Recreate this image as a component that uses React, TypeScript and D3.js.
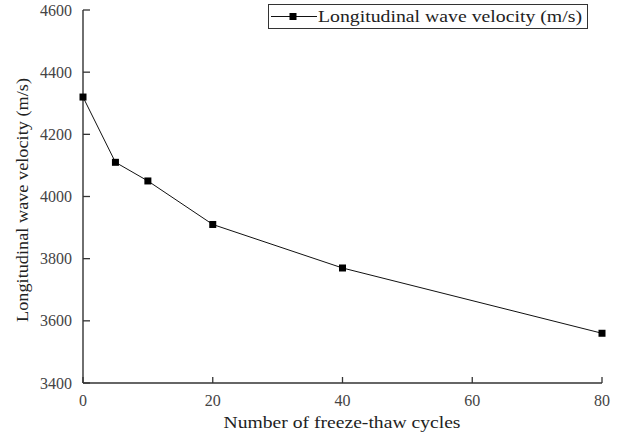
import React from "react";
import * as d3 from "d3";

const cycles = [0, 5, 10, 20, 40, 80];
const velocity = [4320, 4110, 4050, 3910, 3770, 3560];
const xTicks = [0, 20, 40, 60, 80];
const yTicks = [3400, 3600, 3800, 4000, 4200, 4400, 4600];
const seriesName = "Longitudinal wave velocity (m/s)";
const xTitle = "Number of freeze-thaw cycles";
const yTitle = "Longitudinal wave velocity (m/s)";

const W = 623;
const H = 439;
const left = 83;
const right = 602;
const top = 10;
const bottom = 383;
const font = '"Liberation Serif", "Times New Roman", Times, serif';

export default function App() {
  const x = d3.scaleLinear().domain([0, 80]).range([left, right]);
  const y = d3.scaleLinear().domain([3400, 4600]).range([bottom, top]);
  const pts: [number, number][] = cycles.map((c, i) => [c, velocity[i]]);
  const line = d3
    .line<[number, number]>()
    .x((d) => x(d[0]))
    .y((d) => y(d[1]));
  const axisColor = "#333";
  const ms = 7;
  const ts = { fontFamily: font };
  return (
    <svg
      width={W}
      height={H}
      style={{ position: "absolute", left: 0, top: 0, background: "#fff", fontFamily: font }}
    >
      <rect x={0} y={0} width={W} height={H} fill="#fff" />
      <line x1={left} y1={top} x2={left} y2={bottom} stroke={axisColor} strokeWidth={1.4} />
      <line x1={left} y1={bottom} x2={right} y2={bottom} stroke={axisColor} strokeWidth={1.4} />
      {yTicks.map((t) => (
        <g key={"y" + t}>
          <line x1={left} x2={left + 7} y1={y(t)} y2={y(t)} stroke={axisColor} strokeWidth={1.3} />
          <text style={ts} x={left - 11} y={y(t)} dy="0.35em" textAnchor="end" fontSize={16} fill="#444">
            {t}
          </text>
        </g>
      ))}
      {xTicks.map((t) => (
        <g key={"x" + t}>
          <line x1={x(t)} x2={x(t)} y1={bottom} y2={bottom - 6} stroke={axisColor} strokeWidth={1.3} />
          <text style={ts} x={x(t)} y={406} textAnchor="middle" fontSize={16} fill="#444">
            {t}
          </text>
        </g>
      ))}
      <text style={ts} x={342} y={428} textAnchor="middle" fontSize={17} fill="#222" textLength={237} lengthAdjust="spacingAndGlyphs">
        {xTitle}
      </text>
      <text
        style={ts}
        transform={`translate(28,200) rotate(-90)`}
        textAnchor="middle"
        fontSize={17}
        fill="#222"
        textLength={244}
        lengthAdjust="spacingAndGlyphs"
      >
        {yTitle}
      </text>
      <path d={line(pts) || ""} fill="none" stroke="#111" strokeWidth={1} />
      {pts.map((d, i) => (
        <rect key={i} x={x(d[0]) - ms / 2} y={y(d[1]) - ms / 2} width={ms} height={ms} fill="#000" />
      ))}
      <rect x={268.5} y={4.5} width={319} height={24} fill="#fff" stroke="#333" strokeWidth={1} />
      <line x1={271} x2={317} y1={16.5} y2={16.5} stroke="#111" strokeWidth={1} />
      <rect x={293 - ms / 2} y={16.5 - ms / 2} width={ms} height={ms} fill="#000" />
      <text style={ts} x={318} y={22} fontSize={17} fill="#222" textLength={264} lengthAdjust="spacingAndGlyphs">
        {seriesName}
      </text>
    </svg>
  );
}
